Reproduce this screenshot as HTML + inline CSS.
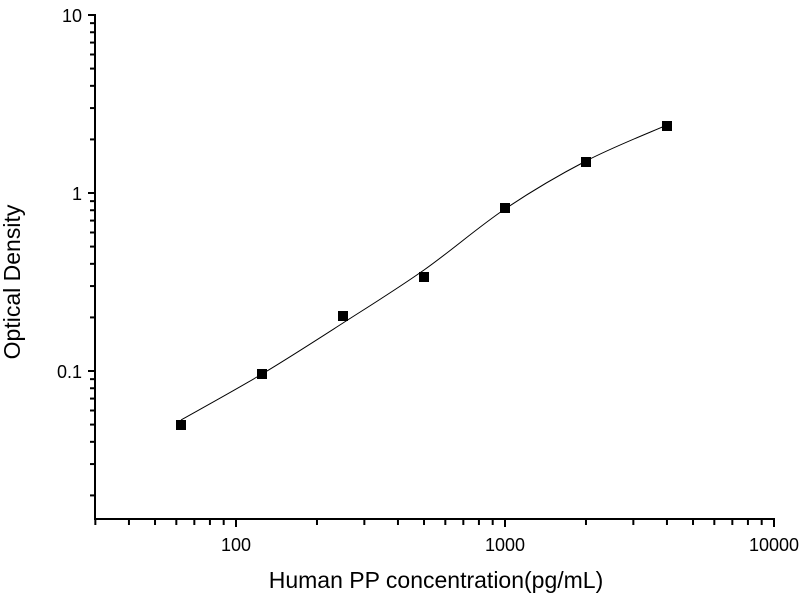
<!DOCTYPE html>
<html><head><meta charset="utf-8"><style>
html,body{margin:0;padding:0;background:#fff;}
svg{display:block;font-family:"Liberation Sans",Arial,sans-serif;}
</style></head><body>
<svg id="s" width="800" height="600" xmlns="http://www.w3.org/2000/svg">
<rect width="800" height="600" fill="#fff"/>
<g id="g" stroke="#000" stroke-width="2" fill="none"></g>
<g font-size="18" fill="#000">
<text x="82" y="22" text-anchor="end">10</text>
<text x="82" y="200" text-anchor="end">1</text>
<text x="82" y="378" text-anchor="end">0.1</text>
<text x="236" y="551" text-anchor="middle">100</text>
<text x="505" y="551" text-anchor="middle">1000</text>
<text x="774" y="551" text-anchor="middle">10000</text>
</g>
<text x="436" y="588" font-size="23" text-anchor="middle">Human PP concentration(pg/mL)</text>
<text transform="translate(20,282) rotate(-90)" font-size="23" text-anchor="middle">Optical Density</text>
<path id="c" d="" stroke="#000" stroke-width="1" fill="none"/>
<g fill="#000">
<rect x="176" y="420" width="10" height="10"/>
<rect x="257" y="369" width="10" height="10"/>
<rect x="338" y="311" width="10" height="10"/>
<rect x="419" y="272" width="10" height="10"/>
<rect x="500" y="203" width="10" height="10"/>
<rect x="581" y="157" width="10" height="10"/>
<rect x="662" y="121" width="10" height="10"/>
</g>
</svg>
<script>
var g=document.getElementById('g'),h='';
function L(a,b,c,d){h+='<line x1="'+a+'" y1="'+b+'" x2="'+c+'" y2="'+d+'"/>';}
L(95,14,95,520);L(94,519,775,519);
var Y0=15,D=178;
for(var e=-2;e<=1;e++){for(var m=1;m<10;m++){var v=m*Math.pow(10,e);var y=Y0+D*(1-Math.log10(v));if(y<14||y>519)continue;L(m==1?88:90,y,95,y);}}
var X0=236,DX=269;
for(var e=1;e<=4;e++){for(var m=1;m<10;m++){var v=m*Math.pow(10,e);var x=X0+DX*(Math.log10(v)-2);if(x<95||x>775)continue;L(x,519,x,m==1?527:525);}}
g.innerHTML=h;
var P=[[181,420],[262,374],[343,323],[424,270],[505,209],[586,161],[667,125]];
var d='M'+P[0][0]+','+P[0][1];
for(var i=0;i<P.length-1;i++){var p0=P[Math.max(i-1,0)],p1=P[i],p2=P[i+1],p3=P[Math.min(i+2,P.length-1)];
d+=' C'+(p1[0]+(p2[0]-p0[0])/6)+','+(p1[1]+(p2[1]-p0[1])/6)+' '+(p2[0]-(p3[0]-p1[0])/6)+','+(p2[1]-(p3[1]-p1[1])/6)+' '+p2[0]+','+p2[1];}
document.getElementById('c').setAttribute('d',d);
</script>
</body></html>
